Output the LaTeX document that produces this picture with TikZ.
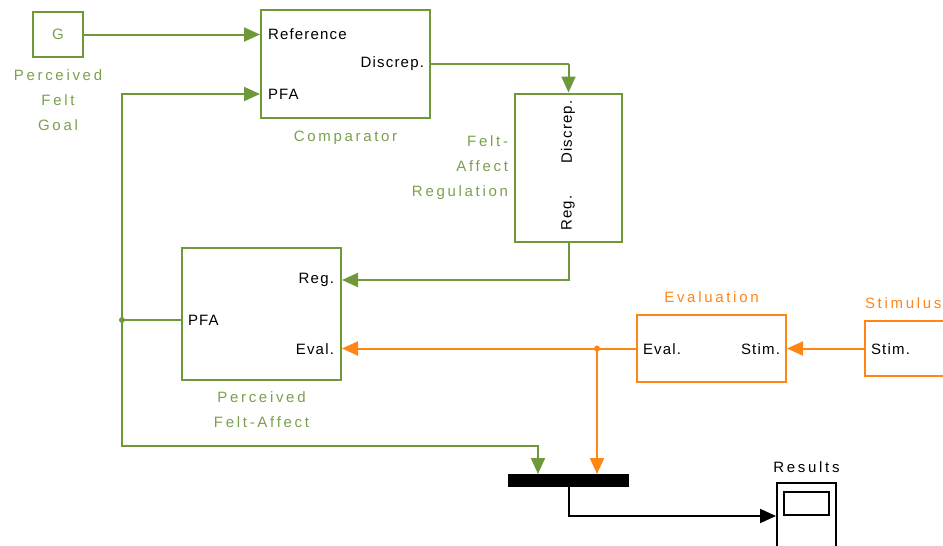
\documentclass[tikz,border=0pt]{standalone}
\usepackage{fontspec}
\setmainfont{Liberation Sans}[LetterSpace=8]
\newfontfamily\labfont{Liberation Sans}[LetterSpace=18]
\usepackage{tikz}
\usetikzlibrary{arrows.meta,positioning,calc}
\definecolor{simgreen}{RGB}{110,152,58}
\definecolor{labgreen}{RGB}{122,160,76}
\definecolor{simorange}{RGB}{255,133,20}

\begin{document}
\begin{tikzpicture}[x=1pt,y=-1pt,->,>={Triangle[length=16pt,width=14pt]},line width=2pt,
    font=\fontsize{15}{17}\selectfont,
    block/.style={draw,rectangle,inner sep=0pt},
    port/.style={text=black,inner sep=0pt},
    lab/.style={font=\labfont\fontsize{15}{25}\selectfont,align=center,inner sep=0pt}]
        \useasboundingbox (0,0) rectangle (943,546);
        % blocks
        \node[block,simgreen,minimum width=50pt,minimum height=45pt]   (G)  at (58,34.5)    {\textcolor{labgreen}{G}};
        \node[block,simgreen,minimum width=169pt,minimum height=108pt] (C)  at (345.5,64)   {};
        \node[block,simgreen,minimum width=107pt,minimum height=148pt] (R)  at (568.5,167.5) {};
        \node[block,simgreen,minimum width=159pt,minimum height=132pt] (P)  at (261.5,314)  {};
        \node[block,simorange,minimum width=149pt,minimum height=67pt] (E)  at (711.5,348.5) {};
        \node[block,simorange,minimum width=110pt,minimum height=55pt] (S)  at (920,348.5)  {};
        \node[block,fill=black,minimum width=119pt,minimum height=11pt] (M) at (568.5,480.5) {};
        \node[block,minimum width=59pt,minimum height=74pt]             (Sc) at (806.5,520)  {};
        \node[block,minimum width=45pt,minimum height=23pt]             (Sw) at (806.5,503.5) {};
        % ports
        \node[port,anchor=west]  (CRef) at (267,34)  {Reference};
        \node[port,anchor=west]  (CPFA) at (267,94)  {PFA};
        \node[port,anchor=east]  (CDis) at (425,64)  {Discrep.};
        \node[port,rotate=90]    (RDis) at (568,132) {Discrep.};
        \node[port,rotate=90]    (RReg) at (568,213) {Reg.};
        \node[port,anchor=east]  (PReg) at (335,280) {Reg.};
        \node[port,anchor=west]  (PPFA) at (187,320) {PFA};
        \node[port,anchor=east]  (PEva) at (335,349) {Eval.};
        \node[port,anchor=west]  (EEva) at (642,349) {Eval.};
        \node[port,anchor=east]  (EStm) at (781,349) {Stim.};
        \node[port,anchor=west]  (SStm) at (870,349) {Stim.};
        % labels
        \node[lab,text=labgreen]  (GL) [below=11pt of G]  {Perceived\\Felt\\Goal};
        \node[lab,text=labgreen]  (CL) [below=11pt of C]  {Comparator};
        \node[lab,text=labgreen,align=right] (RL) [left=5pt of R] {Felt-\\Affect\\Regulation};
        \node[lab,text=labgreen]  (PL) [below=10pt of P] {Perceived\\Felt-Affect};
        \node[lab,text=simorange] (EL) [above=10pt of E] {Evaluation};
        \node[lab,text=simorange,anchor=south west] (SL) at ([yshift=10pt]S.north west) {Stimulus};
        \node[lab,text=black]     (ScL) [above=8pt of Sc] {Results};
        % connectors
        \coordinate (J) at (122,320);
        \coordinate (K) at (538,446);
        \coordinate (D) at (597,348.5);
        \path[simgreen] (G)            edge (C.west |- G)
                        (CDis.east -| C.east) edge [-] (CDis.east -| R.north);
        \draw[simgreen] (CDis.east -| R.north) -- (R.north);
        \draw[simgreen] (R.south) |- (P.east |- PReg);
        \draw[simgreen,-] (P.west |- J) -- (J);
        \draw[simgreen] (J) |- (C.west |- CPFA);
        \draw[simgreen] (J) |- (K) -- (K |- M.north);
        \fill[simgreen] (J) circle (3);
        \draw[simorange] (S) -- (E);
        \draw[simorange] (E) -- (P.east |- E);
        \draw[simorange] (D) -- (D |- M.north);
        \fill[simorange] (D) circle (3);
        \draw[black] (M.south) |- ([yshift=4pt]Sc.west);
\end{tikzpicture}
\end{document}
